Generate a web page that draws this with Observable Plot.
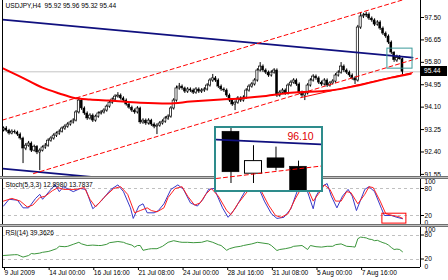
<!DOCTYPE html>
<html><head><meta charset="utf-8">
<script src="https://cdn.jsdelivr.net/npm/d3@7"></script>
<script src="https://cdn.jsdelivr.net/npm/@observablehq/plot@0.6"></script>
<style>
html,body{margin:0;padding:0;background:#fff;}
#wrap{position:relative;width:448px;height:280px;overflow:hidden;font-family:"Liberation Sans",Arial,sans-serif;}
#wrap svg{position:absolute;left:0;}
.sep{position:absolute;left:0;width:448px;height:3px;background:#c0c0c0;border-top:1px solid #707070;border-bottom:1px solid #707070;box-sizing:border-box;}
</style></head><body><div id="wrap"></div><script>
// ---- candle data (USDJPY H4) ----
const O = [93.22,93.29,93.21,93.10,93.17,93.14,93.06,92.91,92.53,92.64,
92.72,92.45,92.60,92.38,92.45,92.57,92.64,92.83,92.91,93.02,
93.10,93.17,93.29,93.36,93.44,93.52,93.59,93.90,94.35,94.05,
93.86,93.67,93.78,93.59,93.74,93.86,93.90,93.97,94.12,94.27,
94.39,94.50,94.54,94.43,94.35,94.20,94.08,93.97,93.90,94.05,
93.52,93.59,93.48,93.59,93.44,93.36,93.40,93.48,93.55,93.67,
93.74,94.05,94.35,94.81,94.88,94.81,94.69,94.77,94.73,94.65,
94.77,94.69,94.73,94.77,94.92,95.11,95.19,95.11,94.88,94.77,
94.73,94.54,94.35,94.20,94.27,94.43,94.35,94.46,94.73,94.88,
94.96,95.11,95.49,95.64,95.49,95.41,95.30,95.41,95.49,94.54,
94.65,94.73,94.62,94.92,95.03,95.11,94.96,94.65,94.54,94.62,
94.92,95.11,95.26,95.19,95.03,94.96,95.11,94.92,95.00,95.07,
95.30,95.41,95.64,95.49,95.41,95.30,95.19,95.11,97.12,97.54,
97.58,97.61,97.46,97.39,97.23,97.31,97.08,96.89,96.78,96.55,
96.17,95.87,95.98,95.92];
const H = [93.35,93.36,93.26,93.24,93.23,93.19,93.12,92.96,92.72,92.80,
92.78,92.66,92.64,92.52,92.63,92.72,92.90,92.98,93.09,93.16,
93.24,93.35,93.43,93.51,93.58,93.66,93.97,94.46,94.40,94.11,
93.92,93.85,93.84,93.80,93.92,93.97,94.04,94.18,94.33,94.45,
94.57,94.65,94.60,94.49,94.41,94.26,94.14,94.03,94.12,94.10,
93.66,93.65,93.66,93.64,93.50,93.47,93.55,93.62,93.74,93.81,
94.12,94.42,94.90,95.00,94.94,94.86,94.84,94.83,94.79,94.84,
94.83,94.80,94.84,94.99,95.18,95.34,95.26,95.17,94.94,94.83,
94.79,94.60,94.41,94.34,94.50,94.49,94.53,94.80,94.95,95.03,
95.18,95.56,95.79,95.70,95.55,95.47,95.48,95.56,95.55,94.72,
94.80,94.79,94.99,95.10,95.18,95.17,95.02,94.71,94.69,94.99,
95.18,95.33,95.32,95.25,95.09,95.18,95.17,95.07,95.14,95.37,
95.48,95.79,95.70,95.55,95.47,95.36,95.25,97.20,97.69,97.66,
97.70,97.67,97.52,97.45,97.38,97.37,97.14,96.95,96.84,96.61,
96.20,96.07,96.06,95.96];
const L = [93.16,93.15,93.04,93.05,93.08,92.99,92.85,91.96,92.45,92.58,
92.38,92.40,92.30,91.69,92.40,92.50,92.58,92.77,92.85,92.95,
93.03,93.12,93.22,93.30,93.38,93.46,93.54,93.84,93.98,93.79,
93.60,93.61,93.52,93.53,93.68,93.80,93.84,93.91,94.06,94.21,
94.33,94.44,94.37,94.28,94.14,94.02,93.90,93.83,93.84,93.45,
93.45,93.41,93.42,93.37,93.28,93.06,93.34,93.42,93.49,93.60,
93.68,93.99,94.29,94.74,94.74,94.62,94.62,94.66,94.58,94.59,
94.62,94.62,94.66,94.71,94.86,95.04,95.04,94.81,94.70,94.66,
94.47,94.28,94.13,93.97,94.21,94.28,94.29,94.40,94.67,94.82,
94.90,95.05,95.43,95.42,95.34,95.23,95.24,95.35,94.47,94.48,
94.59,94.55,94.56,94.86,94.97,94.89,94.58,94.47,94.35,94.56,
94.86,95.05,95.12,94.96,94.89,94.90,94.85,94.86,94.94,95.01,
95.24,95.35,95.42,95.34,95.23,95.12,94.96,95.05,97.05,97.46,
97.50,97.39,97.32,97.16,97.17,97.01,96.82,96.71,96.48,96.10,
95.80,95.80,95.89,95.32];
const C = [93.29,93.21,93.10,93.17,93.14,93.06,92.91,92.53,92.64,92.72,
92.45,92.60,92.38,92.45,92.57,92.64,92.83,92.91,93.02,93.10,
93.17,93.29,93.36,93.44,93.52,93.59,93.90,94.35,94.05,93.86,
93.67,93.78,93.59,93.74,93.86,93.90,93.97,94.12,94.27,94.39,
94.50,94.54,94.43,94.35,94.20,94.08,93.97,93.90,94.05,93.52,
93.59,93.48,93.59,93.44,93.36,93.40,93.48,93.55,93.67,93.74,
94.05,94.35,94.81,94.88,94.81,94.69,94.77,94.73,94.65,94.77,
94.69,94.73,94.77,94.92,95.11,95.19,95.11,94.88,94.77,94.73,
94.54,94.35,94.20,94.27,94.43,94.35,94.46,94.73,94.88,94.96,
95.11,95.49,95.64,95.49,95.41,95.30,95.41,95.49,94.54,94.65,
94.73,94.62,94.92,95.03,95.11,94.96,94.65,94.54,94.62,94.92,
95.11,95.26,95.19,95.03,94.96,95.11,94.92,95.00,95.07,95.30,
95.41,95.64,95.49,95.41,95.30,95.19,95.11,97.12,97.54,97.58,
97.61,97.46,97.39,97.23,97.31,97.08,96.89,96.78,96.55,96.17,
95.88,95.96,95.91,95.44];

// moving average (read at bar positions)
const maIdx = [0,6,14,20,25,31,38,49,59,67,78,85,92,103,117,127,139,146];
const maVal = [95.56,95.26,94.84,94.62,94.46,94.39,94.35,94.27,94.24,94.31,94.39,94.43,94.50,94.65,94.73,94.92,95.22,95.37];

// trend lines [barIndex, price]
const blueTop = [[-0.36,97.42],[146.6,95.98]];
const blueBottom = [[-0.36,91.77],[40,91.37]];
const redUpper = [[-0.36,93.61],[149.46,98.37]];
const redLower = [[10.75,91.58],[148.4,95.95]];
const redThin = [[106.5,94.46],[146.6,95.41]];
const tealBox = {i1:137.6,i2:146.6,lo:95.56,hi:96.32};

// stochastic
const stochMain = 12.8980, stochSignal = 13.7837;
const kIdx = [0,2,5,7,9,11.5,13,14,17,18.5,20,21.5,25,27.5,29.5,32,35,38.5,41,43,45.5,46.5,48.5,50,51.5,54,55.5,57.5,60,62.5,64.5,67,69.5,71.5,73.5,75.5,78.5,80.5,83,86.5,89,91,93.5,96,98,100.5,103,105.5,108,109.5,111,112,114,116,117.5,119.5,121.5,123.5,125,126.5,129.5,131,133,135.5,136.5,139,141,143];
const kVal = [41,56,54,37,37,58,67,56,78,88,73,84,73,80,78,35,52,78,88,73,37,13.5,41,46,26,26,31,46,78,88,78,48,41,56,78,80,37,16,35,73,91,88,52,24,13.5,16,35,78,91,63,35,63,84,91,63,37,63,78,63,31,78,84,73,35,20,20,16,stochMain];
const dIdx = [0,3,6,8.5,10.5,13,15,17.5,19.5,21.5,23.5,26,29,31,33,36,39.5,42,44.5,47,49,51.5,53,55,57.5,59,61.5,64,66,68.5,70.5,72.5,74.5,77,80,81.5,84,88,90.5,92.5,95,97.5,99.5,102,104.5,107,109.5,111,113,115,117,119,121,123,124.5,127,129.5,131,132.5,135,137,139.5,141.5,143];
const dVal = [52,58,52,39,43,60,63,75,82,78,78,78,82,56,39,60,80,84,67,26,31,37,31,28,37,60,80,84,63,43,48,67,80,63,31,22,46,78,91,73,43,20,16,24,56,84,73,52,69,88,78,52,52,73,71,46,67,84,82,52,24,20,18,stochSignal];
const stochBox = {i1:135.8,i2:144.4,lo:2,hi:24};

// RSI
const rsiLast = 39.3626;
const rsiIdx = [0,2,4,5,6,7,9,10,11,13,14,16,17,19,20,22,23,25,27,28,30,32,34,35,37,38,41,43,44,46,47,48,49,50,52,53,55,56,57,59,61,63,64,66,68,71,73,75,77,78,80,81,83,85,86,89,91,93,95,96,98,99,101,103,104,107,109,110,112,114,116,118,119,121,123,125,126,127,128,129,130,131,132,133,134,135,136,137,138,139,140,141,142,143];
const rsiVal = [30,31,32,32,29,26,30,35,34,36,38,40,42,47,53,52,53,58,63,59,55,56,55,55,58,62,65,63,60,56,51,55,55,43,46,47,47,50,53,63,67,64,63,63,62,63,67,63,57,55,43,47,51,53,55,59,63,61,59,55,42.5,45,47,50,53,55,45,55,52,51,53,53,57,59,53,52,51,72,76,75,74,71,70,67,68,65,62,60,56,50,45,46,45,rsiLast];

// axes
const yTicks = [97.50,96.65,95.80,94.95,94.10,93.25,92.40,91.55];
const xTickIdx = [0,16,32,48,64,80,96,112,128];
const xLabels = ["9 Jul 2009","14 Jul 00:00","16 Jul 16:00","21 Jul 08:00","24 Jul 00:00","28 Jul 16:00","31 Jul 08:00","5 Aug 00:00","7 Aug 16:00"];

// inset (zoom of last four bars)
const insetBlue = [[-0.644,96.114],[4.022,96.080]];
const insetRed = [[-0.644,95.836],[4.022,95.925]];
const insetLevel = 96.10;

// ---------------------------------
const W = 448, ML = 2, MR = 28;
const xMin = -0.36, xMax = 149.46;
const font = "'Liberation Sans', Arial, sans-serif";
const st = {fontFamily:font, fontSize:"6.6px", overflow:"visible", background:"transparent"};
const wrap = document.getElementById("wrap");
function place(el, top, left=0){ el.style.position="absolute"; el.style.top=top+"px"; el.style.left=left+"px"; wrap.appendChild(el); return el; }

const bars = C.map((c,i)=>({i,o:O[i],h:H[i],l:L[i],c}));
function candles(data, hw, sw, clip){
  return [
    Plot.ruleX(data,{x:"i",y1:"l",y2:"h",stroke:"#000",strokeWidth:1,clip}),
    Plot.rect(data.filter(b=>b.c>=b.o),{x1:b=>b.i-hw,x2:b=>b.i+hw,y1:"o",y2:"c",fill:"#fff",stroke:"#000",strokeWidth:sw,clip}),
    Plot.rect(data.filter(b=>b.c<b.o),{x1:b=>b.i-hw,x2:b=>b.i+hw,y1:"o",y2:"c",fill:"#000",stroke:"#000",strokeWidth:sw*0.5,clip})
  ];
}
const last = bars[bars.length-1];
const header = `USDJPY,H4\u00a0\u00a0${last.o.toFixed(2)} ${last.h.toFixed(2)} ${last.l.toFixed(2)} ${last.c.toFixed(2)}`;

const main = Plot.plot({
  width:W, height:176, marginLeft:ML, marginRight:MR, marginTop:0, marginBottom:0,
  x:{domain:[xMin,xMax], axis:null},
  y:{domain:[91.47,98.145], axis:null},
  style:st,
  marks:[
    Plot.ruleY([last.c],{stroke:"#c4c4c4"}),
    ...candles(bars,0.38,0.7,true),
    Plot.line(blueTop,{stroke:"#10107f",strokeWidth:1.8,clip:true}),
    Plot.line(blueBottom,{stroke:"#10107f",strokeWidth:1.8,clip:true}),
    Plot.line(redUpper,{stroke:"#ff0000",strokeWidth:1,strokeDasharray:"4,3",clip:true}),
    Plot.line(redLower,{stroke:"#ff0000",strokeWidth:1,strokeDasharray:"4,3",clip:true}),
    Plot.line(redThin,{stroke:"#ff0000",strokeWidth:1,clip:true}),
    Plot.line(maIdx.map((d,k)=>[d,maVal[k]]),{curve:"monotone-x",stroke:"#ff0000",strokeWidth:2,clip:true}),
    Plot.rect([tealBox],{x1:"i1",x2:"i2",y1:"lo",y2:"hi",fill:"none",stroke:"#3a9a9a",strokeWidth:1}),
    Plot.text([header],{frameAnchor:"top-left",dx:3,dy:3,fill:"#000"}),
    Plot.axisY({anchor:"right",ticks:yTicks,tickFormat:d=>d.toFixed(2),tickSize:3,tickPadding:1}),
    Plot.ruleX([xMin,xMax],{stroke:"#000"})
  ]
});
place(main,0);

// bid label
const bidY = main.scale("y").apply(last.c);
const bid = document.createElement("div");
bid.textContent = last.c.toFixed(2);
Object.assign(bid.style,{width:"26px",height:"10px",background:"#000",color:"#fff",fontSize:"6.6px",lineHeight:"10px",paddingLeft:"3px",boxSizing:"border-box",fontFamily:font});
place(bid, bidY-5, 421);

const sto = Plot.plot({
  width:W, height:45, marginLeft:ML, marginRight:MR, marginTop:0, marginBottom:0,
  x:{domain:[xMin,xMax], axis:null},
  y:{domain:[0,100], axis:null},
  style:st,
  marks:[
    Plot.ruleY([80,20],{stroke:"#c0c0c0",strokeDasharray:"3,3"}),
    Plot.line(kIdx.map((d,k)=>[d,kVal[k]]),{stroke:"#3838c8",strokeWidth:1}),
    Plot.line(dIdx.map((d,k)=>[d,dVal[k]]),{stroke:"#ff2020",strokeWidth:1}),
    Plot.rect([stochBox],{x1:"i1",x2:"i2",y1:"lo",y2:"hi",fill:"none",stroke:"#ff0000",strokeWidth:1}),
    Plot.text([`Stoch(5,3,3) ${stochMain.toFixed(4)} ${stochSignal.toFixed(4)}`],{frameAnchor:"top-left",dx:3,dy:3}),
    Plot.axisY({anchor:"right",ticks:[80,20],tickFormat:d=>String(d),tickSize:3,tickPadding:1}),
    Plot.text([100],{x:xMax,y:d=>d,text:d=>String(d),textAnchor:"start",dx:4,dy:2}),
    Plot.text([0],{x:xMax,y:d=>d,text:d=>String(d),textAnchor:"start",dx:4,dy:-2}),
    Plot.ruleX([xMin,xMax],{stroke:"#000"})
  ]
});
place(sto,179);

const rsi = Plot.plot({
  width:W, height:53, marginLeft:ML, marginRight:MR, marginTop:0, marginBottom:13,
  x:{domain:[xMin,xMax], axis:null},
  y:{domain:[0,100], axis:null},
  style:st,
  marks:[
    Plot.ruleY([80,20],{stroke:"#c0c0c0",strokeDasharray:"3,3"}),
    Plot.line(rsiIdx.map((d,k)=>[d,rsiVal[k]]),{stroke:"#3c963c",strokeWidth:1}),
    Plot.text([`RSI(14) ${rsiLast.toFixed(4)}`],{frameAnchor:"top-left",dx:3,dy:3}),
    Plot.axisY({anchor:"right",ticks:[80,20],tickFormat:d=>String(d),tickSize:3,tickPadding:1,dy:-0.5}),
    Plot.text([100],{x:xMax,y:d=>d,text:d=>String(d),textAnchor:"start",dx:4,dy:2}),
    Plot.text([0],{x:xMax,y:d=>d,text:d=>String(d),textAnchor:"start",dx:4,dy:-1}),
    Plot.axisX({anchor:"bottom",ticks:xTickIdx,tickFormat:d=>xLabels[xTickIdx.indexOf(d)],textAnchor:"start",dx:1,tickSize:3,tickPadding:0}),
    Plot.ruleY([0],{stroke:"#000"}),
    Plot.ruleX([xMin,xMax],{y1:0,y2:100,stroke:"#000"})
  ]
});
place(rsi,227);

// panel separators
const s1 = document.createElement("div"); s1.className="sep"; place(s1,176);
const s2 = document.createElement("div"); s2.className="sep"; place(s2,224);

// inset
const box = document.createElement("div");
Object.assign(box.style,{width:"109px",height:"66px",border:"2px solid #2e8c8c",background:"#fff",boxSizing:"border-box"});
place(box,126,214);
const inset = Plot.plot({
  width:105, height:62, margin:0,
  x:{domain:[-0.644,4.022], axis:null},
  y:{domain:[95.75,96.193], axis:null},
  style:{fontFamily:font, background:"transparent", overflow:"hidden"},
  marks:[
    ...candles(bars.slice(-4).map((b,k)=>({...b,i:k})),0.378,1,true),
    Plot.line(insetBlue,{stroke:"#10107f",strokeWidth:1.8}),
    Plot.line(insetRed,{stroke:"#ff0000",strokeWidth:1,strokeDasharray:"4,3"}),
    Plot.text([insetLevel],{x:3.09,y:96.135,text:d=>d.toFixed(2),fill:"#e00000",fontSize:10.5})
  ]
});
inset.style.position="absolute"; inset.style.top="0px"; inset.style.left="0px";
box.appendChild(inset);
</script></body></html>
